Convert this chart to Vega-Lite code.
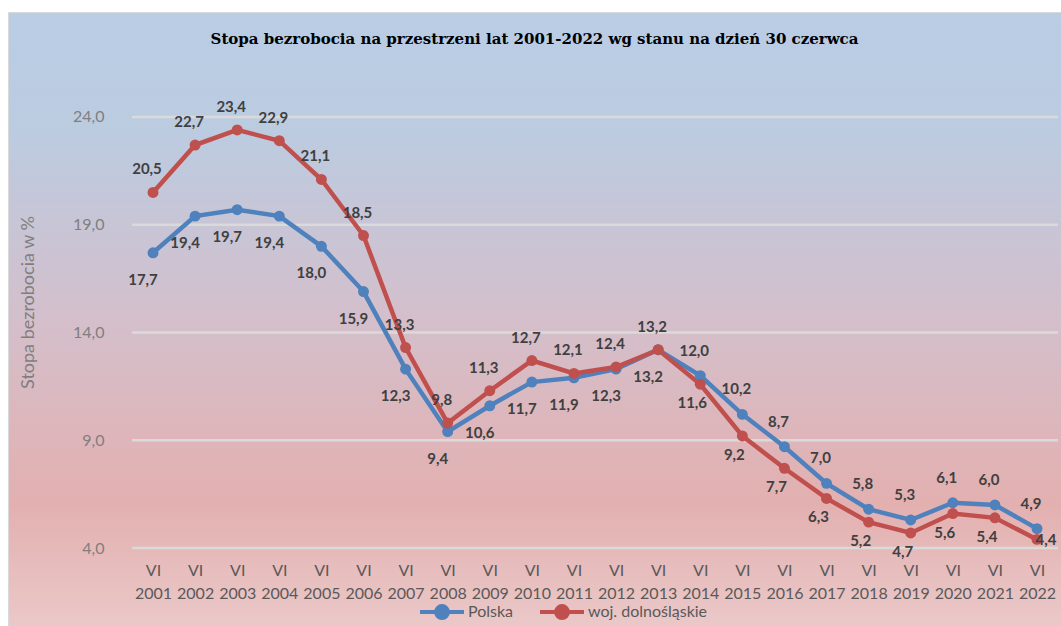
{
  "$schema": "https://vega.github.io/schema/vega-lite/v6.json",
  "width": 1053,
  "height": 614,
  "autosize": {"type": "none"},
  "padding": {"left": 8, "top": 12, "right": 0, "bottom": 0},
  "background": "#ffffff",
  "title": {
    "text": "Stopa bezrobocia na przestrzeni lat 2001-2022 wg stanu na dzień 30 czerwca",
    "font": "DejaVu Serif",
    "fontSize": 15,
    "fontWeight": "bold",
    "color": "#000000",
    "anchor": "middle",
    "baseline": "alphabetic",
    "offset": -47
  },
  "config": {
    "locale": {"number": {"decimal": ",", "thousands": "\u00a0", "grouping": [3], "currency": ["", " zł"]}},
    "view": {
      "fill": {
        "gradient": "linear", "x1": 0, "y1": 0, "x2": 0, "y2": 1,
        "stops": [
          {"offset": 0, "color": "#b9cde5"},
          {"offset": 0.2, "color": "#bccbe0"},
          {"offset": 0.5, "color": "#d4bfcb"},
          {"offset": 0.8, "color": "#e3b0b0"},
          {"offset": 1, "color": "#ebc8c8"}
        ]
      },
      "stroke": "#d9d9d9",
      "strokeWidth": 1
    }
  },
  "datasets": {
    "rates": [
      {"year": 2001, "series": "Polska", "value": 17.7},
      {"year": 2002, "series": "Polska", "value": 19.4},
      {"year": 2003, "series": "Polska", "value": 19.7},
      {"year": 2004, "series": "Polska", "value": 19.4},
      {"year": 2005, "series": "Polska", "value": 18.0},
      {"year": 2006, "series": "Polska", "value": 15.9},
      {"year": 2007, "series": "Polska", "value": 12.3},
      {"year": 2008, "series": "Polska", "value": 9.4},
      {"year": 2009, "series": "Polska", "value": 10.6},
      {"year": 2010, "series": "Polska", "value": 11.7},
      {"year": 2011, "series": "Polska", "value": 11.9},
      {"year": 2012, "series": "Polska", "value": 12.3},
      {"year": 2013, "series": "Polska", "value": 13.2},
      {"year": 2014, "series": "Polska", "value": 12.0},
      {"year": 2015, "series": "Polska", "value": 10.2},
      {"year": 2016, "series": "Polska", "value": 8.7},
      {"year": 2017, "series": "Polska", "value": 7.0},
      {"year": 2018, "series": "Polska", "value": 5.8},
      {"year": 2019, "series": "Polska", "value": 5.3},
      {"year": 2020, "series": "Polska", "value": 6.1},
      {"year": 2021, "series": "Polska", "value": 6.0},
      {"year": 2022, "series": "Polska", "value": 4.9},
      {"year": 2001, "series": "woj. dolnośląskie", "value": 20.5},
      {"year": 2002, "series": "woj. dolnośląskie", "value": 22.7},
      {"year": 2003, "series": "woj. dolnośląskie", "value": 23.4},
      {"year": 2004, "series": "woj. dolnośląskie", "value": 22.9},
      {"year": 2005, "series": "woj. dolnośląskie", "value": 21.1},
      {"year": 2006, "series": "woj. dolnośląskie", "value": 18.5},
      {"year": 2007, "series": "woj. dolnośląskie", "value": 13.3},
      {"year": 2008, "series": "woj. dolnośląskie", "value": 9.8},
      {"year": 2009, "series": "woj. dolnośląskie", "value": 11.3},
      {"year": 2010, "series": "woj. dolnośląskie", "value": 12.7},
      {"year": 2011, "series": "woj. dolnośląskie", "value": 12.1},
      {"year": 2012, "series": "woj. dolnośląskie", "value": 12.4},
      {"year": 2013, "series": "woj. dolnośląskie", "value": 13.2},
      {"year": 2014, "series": "woj. dolnośląskie", "value": 11.6},
      {"year": 2015, "series": "woj. dolnośląskie", "value": 9.2},
      {"year": 2016, "series": "woj. dolnośląskie", "value": 7.7},
      {"year": 2017, "series": "woj. dolnośląskie", "value": 6.3},
      {"year": 2018, "series": "woj. dolnośląskie", "value": 5.2},
      {"year": 2019, "series": "woj. dolnośląskie", "value": 4.7},
      {"year": 2020, "series": "woj. dolnośląskie", "value": 5.6},
      {"year": 2021, "series": "woj. dolnośląskie", "value": 5.4},
      {"year": 2022, "series": "woj. dolnośląskie", "value": 4.4}
    ]
  },
  "layer": [
    {
      "data": {"values": [{"value": 4}, {"value": 9}, {"value": 14}, {"value": 19}, {"value": 24}]},
      "mark": {"type": "rule", "stroke": "#dadada", "strokeWidth": 2.5},
      "encoding": {
        "x": {
          "datum": 2000.5, "type": "quantitative",
          "scale": {"domain": [1997.555, 2022.57], "nice": false, "zero": false},
          "axis": {
            "values": [2001, 2002, 2003, 2004, 2005, 2006, 2007, 2008, 2009, 2010, 2011, 2012, 2013, 2014, 2015, 2016, 2017, 2018, 2019, 2020, 2021, 2022],
            "format": "d",
            "labelExpr": "['VI', datum.label]",
            "offset": -65,
            "domain": false, "ticks": false, "tickSize": 0, "grid": false,
            "labelPadding": 1,
            "labelFont": "Lato", "labelFontSize": 16, "labelColor": "#595959",
            "labelLineHeight": 23, "labelOverlap": false, "labelFlush": false,
            "title": null
          }
        },
        "x2": {"datum": 2022.5},
        "y": {
          "field": "value", "type": "quantitative",
          "scale": {"domain": [0.381, 28.872], "nice": false, "zero": false},
          "axis": {
            "values": [4, 9, 14, 19, 24],
            "format": ".1f",
            "offset": -102,
            "domain": false, "ticks": false, "tickSize": 0, "grid": false,
            "labelPadding": 6,
            "labelFont": "Lato", "labelFontSize": 16, "labelColor": "#7f7f7f",
            "title": "Stopa bezrobocia w %",
            "titleFont": "Lato", "titleFontSize": 18, "titleFontWeight": "normal", "titleColor": "#7f7f7f",
            "titleAngle": -90, "titleX": -82, "titleY": 290, "titleAlign": "center", "titleBaseline": "middle"
          }
        }
      }
    },
    {
      "data": {"name": "rates"},
      "encoding": {
        "x": {
          "field": "year", "type": "quantitative",
          "scale": {"domain": [1997.555, 2022.57], "nice": false, "zero": false},
          "axis": {
            "values": [2001, 2002, 2003, 2004, 2005, 2006, 2007, 2008, 2009, 2010, 2011, 2012, 2013, 2014, 2015, 2016, 2017, 2018, 2019, 2020, 2021, 2022],
            "format": "d",
            "labelExpr": "['VI', datum.label]",
            "offset": -65,
            "domain": false, "ticks": false, "tickSize": 0, "grid": false,
            "labelPadding": 1,
            "labelFont": "Lato", "labelFontSize": 16, "labelColor": "#595959",
            "labelLineHeight": 23, "labelOverlap": false, "labelFlush": false,
            "title": null
          }
        },
        "y": {
          "field": "value", "type": "quantitative",
          "scale": {"domain": [0.381, 28.872], "nice": false, "zero": false},
          "axis": {
            "values": [4, 9, 14, 19, 24],
            "format": ".1f",
            "offset": -102,
            "domain": false, "ticks": false, "tickSize": 0, "grid": false,
            "labelPadding": 6,
            "labelFont": "Lato", "labelFontSize": 16, "labelColor": "#7f7f7f",
            "title": "Stopa bezrobocia w %",
            "titleFont": "Lato", "titleFontSize": 18, "titleFontWeight": "normal", "titleColor": "#7f7f7f",
            "titleAngle": -90, "titleX": -82, "titleY": 290, "titleAlign": "center", "titleBaseline": "middle"
          }
        }
      },
      "layer": [
        {
          "mark": {"type": "line", "strokeWidth": 4.5},
          "encoding": {
            "color": {
              "field": "series", "type": "nominal",
              "scale": {"domain": ["Polska", "woj. dolnośląskie"], "range": ["#4f81bd", "#c0504d"]},
              "legend": {
                "orient": "none", "legendX": 410, "legendY": 576, "direction": "horizontal", "title": null,
                "symbolType": "M-1,0L1,0M0.27,0A0.27,0.27,0,1,1,-0.27,0A0.27,0.27,0,1,1,0.27,0",
                "symbolSize": 1936, "symbolStrokeWidth": 4,
                "labelFont": "Lato", "labelFontSize": 16, "labelColor": "#595959", "labelOffset": 2,
                "columnPadding": 18,
                "encode": {"symbols": {"update": {"fill": {"scale": "color", "field": "value"}, "stroke": {"scale": "color", "field": "value"}, "strokeWidth": {"value": 4}}}}
              }
            }
          }
        },
        {
          "mark": {"type": "point", "filled": true, "size": 120, "opacity": 1},
          "encoding": {
            "color": {"field": "series", "type": "nominal", "scale": {"domain": ["Polska", "woj. dolnośląskie"], "range": ["#4f81bd", "#c0504d"]}, "legend": null}
          }
        },
        {
          "transform": [{"filter": "datum.series == 'Polska' && datum.year <= 2013"}],
          "mark": {"type": "text", "font": "Lato", "fontSize": 15, "fontWeight": "bold", "color": "#404040", "dx": -10, "dy": 27},
          "encoding": {"text": {"field": "value", "type": "quantitative", "format": ".1f"}}
        },
        {
          "transform": [{"filter": "datum.series != 'Polska' && datum.year <= 2013"}],
          "mark": {"type": "text", "font": "Lato", "fontSize": 15, "fontWeight": "bold", "color": "#404040", "dx": -6, "dy": -23},
          "encoding": {"text": {"field": "value", "type": "quantitative", "format": ".1f"}}
        },
        {
          "transform": [{"filter": "datum.series == 'Polska' && datum.year >= 2014"}],
          "mark": {"type": "text", "font": "Lato", "fontSize": 15, "fontWeight": "bold", "color": "#404040", "dx": -6, "dy": -25},
          "encoding": {"text": {"field": "value", "type": "quantitative", "format": ".1f"}}
        },
        {
          "transform": [{"filter": "datum.series != 'Polska' && datum.year >= 2014 && datum.year <= 2021"}],
          "mark": {"type": "text", "font": "Lato", "fontSize": 15, "fontWeight": "bold", "color": "#404040", "dx": -8, "dy": 19},
          "encoding": {"text": {"field": "value", "type": "quantitative", "format": ".1f"}}
        },
        {
          "transform": [{"filter": "datum.series != 'Polska' && datum.year == 2022"}],
          "mark": {"type": "text", "font": "Lato", "fontSize": 15, "fontWeight": "bold", "color": "#404040", "dx": 9, "dy": 1},
          "encoding": {"text": {"field": "value", "type": "quantitative", "format": ".1f"}}
        }
      ]
    }
  ]
}
